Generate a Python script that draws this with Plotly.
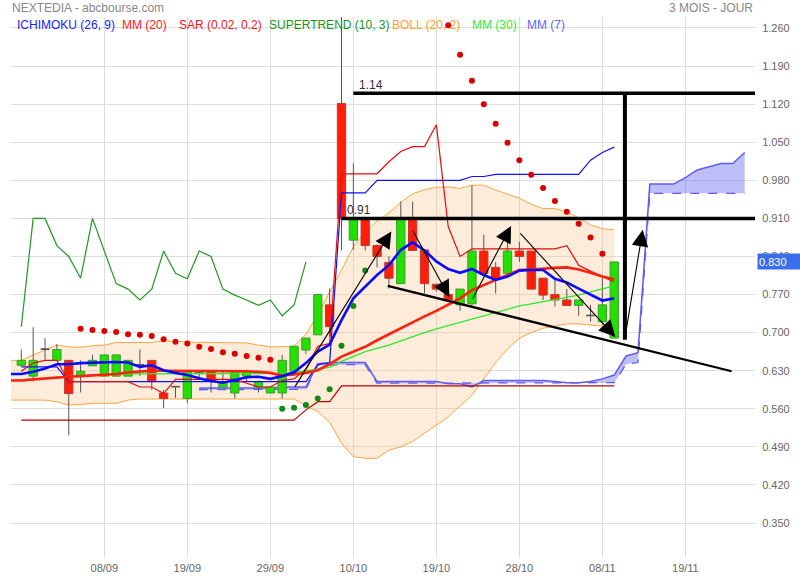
import plotly.graph_objects as go

# ---------------- data ----------------
tick_idx = [7, 14, 21, 28, 35, 42, 49, 56]
tick_labels = ['08/09', '19/09', '29/09', '10/10', '19/10', '28/10', '08/11', '19/11']

candle_idx = list(range(51))
opens = [0.640, 0.620, 0.669, 0.649, 0.649, 0.620, 0.639, 0.620, 0.620, 0.620,
         0.640, 0.649, 0.589, 0.600, 0.579, 0.625, 0.630, 0.600, 0.589, 0.620,
         0.600, 0.589, 0.589, 0.629, 0.668, 0.696, 0.751, 1.121, 0.870, 0.910,
         0.860, 0.829, 0.790, 0.910, 0.852, 0.789, 0.770, 0.751, 0.753, 0.850,
         0.820, 0.809, 0.850, 0.850, 0.800, 0.770, 0.760, 0.750, 0.731, 0.720,
         0.690]
highs = [0.669, 0.710, 0.690, 0.679, 0.649, 0.649, 0.659, 0.659, 0.659, 0.649,
         0.669, 0.649, 0.595, 0.600, 0.629, 0.630, 0.630, 0.628, 0.629, 0.632,
         0.612, 0.600, 0.659, 0.675, 0.690, 0.770, 0.781, 1.400, 1.011, 0.910,
         0.862, 0.840, 0.941, 0.941, 0.852, 0.789, 0.800, 0.780, 0.971, 0.880,
         0.830, 0.880, 0.867, 0.850, 0.800, 0.800, 0.780, 0.760, 0.751, 0.800,
         0.830]
lows = [0.638, 0.610, 0.650, 0.649, 0.511, 0.590, 0.639, 0.620, 0.620, 0.620,
        0.620, 0.595, 0.561, 0.580, 0.570, 0.615, 0.590, 0.600, 0.579, 0.610,
        0.590, 0.589, 0.579, 0.620, 0.661, 0.696, 0.693, 0.851, 0.852, 0.851,
        0.820, 0.781, 0.790, 0.851, 0.772, 0.775, 0.760, 0.740, 0.748, 0.809,
        0.772, 0.809, 0.830, 0.780, 0.760, 0.748, 0.750, 0.731, 0.720, 0.715,
        0.690]
closes = [0.649, 0.649, 0.669, 0.669, 0.588, 0.629, 0.649, 0.659, 0.659, 0.649,
          0.640, 0.610, 0.579, 0.600, 0.629, 0.625, 0.611, 0.610, 0.629, 0.629,
          0.610, 0.600, 0.649, 0.675, 0.690, 0.770, 0.711, 0.910, 0.910, 0.860,
          0.840, 0.800, 0.910, 0.851, 0.790, 0.780, 0.760, 0.780, 0.850, 0.809,
          0.799, 0.850, 0.840, 0.780, 0.769, 0.760, 0.750, 0.760, 0.731, 0.751,
          0.830]

# indicator lines, index -1 .. 50
line_idx = list(range(-1, 51))
mm7 = [0.624, 0.624, 0.628, 0.634, 0.642, 0.642, 0.644, 0.645, 0.645, 0.646,
       0.645, 0.637, 0.640, 0.631, 0.626, 0.622, 0.616, 0.611, 0.608, 0.613,
       0.618, 0.619, 0.615, 0.620, 0.627, 0.644, 0.665, 0.678, 0.723, 0.763,
       0.785, 0.806, 0.824, 0.852, 0.866, 0.851, 0.831, 0.817, 0.810, 0.817,
       0.806, 0.797, 0.803, 0.814, 0.815, 0.815, 0.799, 0.792, 0.781, 0.770,
       0.759, 0.763]
mm20 = [0.612, 0.612, 0.614, 0.616, 0.618, 0.619, 0.620, 0.621, 0.622, 0.624,
        0.627, 0.629, 0.630, 0.630, 0.630, 0.630, 0.630, 0.630, 0.630, 0.630,
        0.629, 0.628, 0.626, 0.621, 0.623, 0.626, 0.631, 0.642, 0.656, 0.665,
        0.674, 0.686, 0.697, 0.708, 0.720, 0.730, 0.740, 0.751, 0.763, 0.778,
        0.788, 0.797, 0.806, 0.815, 0.816, 0.818, 0.819, 0.820, 0.816, 0.810,
        0.803, 0.798]
mm30 = [0.612, 0.613, 0.614, 0.616, 0.618, 0.620, 0.621, 0.622, 0.623, 0.624,
        0.624, 0.624, 0.624, 0.624, 0.624, 0.624, 0.624, 0.624, 0.624, 0.624,
        0.624, 0.624, 0.624, 0.625, 0.627, 0.630, 0.632, 0.636, 0.647, 0.656,
        0.665, 0.671, 0.677, 0.685, 0.693, 0.700, 0.707, 0.713, 0.719, 0.726,
        0.732, 0.738, 0.743, 0.749, 0.753, 0.757, 0.761, 0.765, 0.769, 0.775,
        0.780, 0.786]
boll_up = [0.649, 0.649, 0.659, 0.668, 0.677, 0.674, 0.673, 0.676, 0.677, 0.682,
           0.682, 0.682, 0.682, 0.685, 0.684, 0.682, 0.682, 0.682, 0.682, 0.682,
           0.681, 0.677, 0.674, 0.674, 0.675, 0.697, 0.733, 0.775, 0.815, 0.858,
           0.886, 0.905, 0.920, 0.940, 0.955, 0.963, 0.967, 0.968, 0.965, 0.971,
           0.971, 0.962, 0.955, 0.947, 0.936, 0.928, 0.928, 0.922, 0.911, 0.898,
           0.891, 0.889]
boll_low = [0.576, 0.576, 0.576, 0.576, 0.573, 0.567, 0.568, 0.570, 0.570, 0.570,
            0.576, 0.578, 0.578, 0.578, 0.578, 0.578, 0.578, 0.578, 0.578, 0.578,
            0.578, 0.578, 0.578, 0.578, 0.578, 0.565, 0.555, 0.535, 0.497, 0.472,
            0.469, 0.469, 0.484, 0.490, 0.500, 0.515, 0.530, 0.545, 0.565, 0.585,
            0.615, 0.645, 0.670, 0.690, 0.700, 0.708, 0.712, 0.716, 0.716, 0.714,
            0.711, 0.710]

# ichimoku, index 0 .. 50
tenkan = [0.629, 0.644, 0.649, 0.649, 0.610, 0.610, 0.610, 0.610, 0.610, 0.610,
          0.600, 0.600, 0.588, 0.614, 0.614, 0.614, 0.614, 0.614, 0.614, 0.607,
          0.600, 0.600, 0.612, 0.615, 0.633, 0.675, 0.680, 0.992, 0.992, 0.992,
          0.992, 1.014, 1.033, 1.042, 1.042, 1.082, 0.895, 0.840, 0.854, 0.854,
          0.854, 0.854, 0.854, 0.854, 0.854, 0.854, 0.860, 0.824, 0.813, 0.803,
          0.793]
kijun = [0.637, 0.637, 0.637, 0.637, 0.610, 0.610, 0.610, 0.610, 0.610, 0.610,
         0.610, 0.610, 0.610, 0.610, 0.610, 0.610, 0.610, 0.610, 0.610, 0.610,
         0.610, 0.610, 0.610, 0.610, 0.610, 0.641, 0.644, 0.957, 0.957, 0.957,
         0.980, 0.980, 0.980, 0.980, 0.980, 0.980, 0.980, 0.980, 0.987, 0.987,
         0.991, 0.991, 0.991, 0.991, 0.991, 0.991, 0.991, 0.991, 1.017, 1.031,
         1.041]
dark_line = [0.539] * 24 + [0.558, 0.573, 0.573] + [0.602] * 24

cloud_idx = list(range(15, 62))
senkou_a = [0.598, 0.598, 0.598, 0.598, 0.598, 0.598, 0.598, 0.600, 0.600, 0.600,
            0.643, 0.645, 0.645, 0.645, 0.645, 0.610, 0.610, 0.610, 0.610, 0.610,
            0.610, 0.606, 0.606, 0.600, 0.612, 0.612, 0.612, 0.612, 0.612, 0.612,
            0.610, 0.608, 0.608, 0.610, 0.615, 0.622, 0.657, 0.663, 0.973, 0.973,
            0.973, 0.985, 0.999, 1.005, 1.011, 1.011, 1.031]
senkou_b = [0.595, 0.595, 0.595, 0.595, 0.595, 0.595, 0.595, 0.596, 0.596, 0.596,
            0.640, 0.641, 0.641, 0.641, 0.641, 0.607, 0.607, 0.607, 0.607, 0.607,
            0.607, 0.607, 0.607, 0.607, 0.607, 0.607, 0.607, 0.607, 0.607, 0.607,
            0.607, 0.607, 0.607, 0.607, 0.607, 0.608, 0.642, 0.645, 0.956, 0.956,
            0.956, 0.956, 0.956, 0.956, 0.956, 0.956, 0.956]

sar_red_idx = list(range(5, 22)) + list(range(36, 50))
sar_red = [0.707, 0.705, 0.703, 0.701, 0.697, 0.696, 0.694, 0.688, 0.683, 0.680,
           0.674, 0.670, 0.664, 0.661, 0.657, 0.654, 0.650,
           1.265, 1.211, 1.163, 1.120, 1.084, 1.049, 1.017, 0.990, 0.966, 0.942,
           0.922, 0.900, 0.875, 0.845]
sar_green_idx = list(range(22, 30))
sar_green = [0.560, 0.562, 0.567, 0.579, 0.596, 0.676, 0.749, 0.814]

chikou_idx = list(range(0, 25))
chikou = closes[26:51]

last_price = 0.830

# user drawings (index, price)
hlines = [(28, 1.14, '1.14'), (27, 0.91, '0.91')]
vline = (50.9, 1.14, 0.687)
trend_line = ((30.9, 0.786), (59.9, 0.629))
arrows = [((23.0, 0.598), (31.2, 0.886)),
          ((32.95, 0.890), (36.1, 0.765)),
          ((38.0, 0.760), (41.3, 0.896)),
          ((41.96, 0.885), (50.1, 0.692)),
          ((50.9, 0.690), (52.4, 0.889))]

# ---------------- figure ----------------
X0, X1 = -0.87, 61.87
Y0, Y1 = 0.2857, 1.2802
FONT = 'Liberation Sans, Arial, sans-serif'

fig = go.Figure()

# Bollinger band fill
fig.add_trace(go.Scatter(x=line_idx, y=boll_up, mode='lines',
                         line=dict(color='#ffa53c', width=1), zorder=0))
fig.add_trace(go.Scatter(x=line_idx, y=boll_low, mode='lines', fill='tonexty',
                         fillcolor='rgba(247,196,140,0.33)',
                         line=dict(color='#ffa53c', width=1), zorder=0))

# Ichimoku cloud
fig.add_trace(go.Scatter(x=cloud_idx, y=senkou_b, mode='lines',
                         line=dict(color='#5d5df0', width=1.3, dash='dash'), zorder=1))
fig.add_trace(go.Scatter(x=cloud_idx, y=senkou_a, mode='lines', fill='tonexty',
                         fillcolor='rgba(100,100,240,0.42)',
                         line=dict(color='#5d5df0', width=1.5), zorder=1))

# candles: wicks + bodies
wx, wy = [], []
for i, h, l in zip(candle_idx, highs, lows):
    wx += [i, i, None]
    wy += [l, h, None]
fig.add_trace(go.Scatter(x=wx, y=wy, mode='lines',
                         line=dict(color='#555555', width=1), zorder=2))

body_base, body_h, body_fill, body_line = [], [], [], []
for o, c in zip(opens, closes):
    body_base.append(min(o, c))
    body_h.append(max(abs(c - o), 0.0012))
    if c > o:
        body_fill.append('#22e000'); body_line.append('#3f9a2f')
    elif c < o:
        body_fill.append('#ff1e0a'); body_line.append('#b3402e')
    else:
        body_fill.append('#555555'); body_line.append('#555555')
fig.add_trace(go.Bar(x=candle_idx, y=body_h, base=body_base, width=0.7,
                     marker=dict(color=body_fill, line=dict(color=body_line, width=1)),
                     zorder=3))

# ichimoku lines
fig.add_trace(go.Scatter(x=candle_idx, y=dark_line, mode='lines',
                         line=dict(color='#c00000', width=1.2), zorder=4))
fig.add_trace(go.Scatter(x=chikou_idx, y=chikou, mode='lines',
                         line=dict(color='#1e9a1e', width=1.2), zorder=4))
fig.add_trace(go.Scatter(x=candle_idx, y=kijun, mode='lines',
                         line=dict(color='#1010ff', width=1.2), zorder=4))
fig.add_trace(go.Scatter(x=candle_idx, y=tenkan, mode='lines',
                         line=dict(color='#e01010', width=1.2), zorder=4))

# moving averages
fig.add_trace(go.Scatter(x=line_idx, y=mm30, mode='lines',
                         line=dict(color='#2ee82e', width=1.3), zorder=5))
fig.add_trace(go.Scatter(x=line_idx, y=mm20, mode='lines',
                         line=dict(color='#ff2010', width=2.6), zorder=5))
fig.add_trace(go.Scatter(x=line_idx, y=mm7, mode='lines',
                         line=dict(color='#0a0aff', width=2.6), zorder=6))

# SAR dots
fig.add_trace(go.Scatter(x=sar_red_idx, y=sar_red, mode='markers',
                         marker=dict(color='#dd0000', size=6), zorder=7))
fig.add_trace(go.Scatter(x=sar_green_idx, y=sar_green, mode='markers',
                         marker=dict(color='#128a12', size=6), zorder=7))

# user drawings
shapes = []
for xs, yv, _ in hlines:
    shapes.append(dict(type='line', xref='x', yref='y', x0=xs, x1=X1, y0=yv, y1=yv,
                       line=dict(color='black', width=3.5)))
shapes.append(dict(type='line', xref='x', yref='y', x0=vline[0], x1=vline[0],
                   y0=vline[1], y1=vline[2], line=dict(color='black', width=4)))
shapes.append(dict(type='line', xref='x', yref='y', x0=trend_line[0][0], y0=trend_line[0][1],
                   x1=trend_line[1][0], y1=trend_line[1][1],
                   line=dict(color='black', width=2.3)))

annotations = []
for xs, yv, txt in hlines:
    annotations.append(dict(x=xs + 0.3, y=yv, xref='x', yref='y', text=txt, showarrow=False,
                            xanchor='left', yanchor='bottom', yshift=-1,
                            font=dict(family=FONT, size=12, color='#333333')))
for (tx, ty), (hx, hy) in arrows:
    annotations.append(dict(x=hx, y=hy, ax=tx, ay=ty, xref='x', yref='y', axref='x', ayref='y',
                            text='', showarrow=True, arrowhead=2, arrowsize=3.0,
                            arrowwidth=1.1, arrowcolor='black'))

# header texts
def px_x(p):
    return (p - 11) / 744.0

def px_y(p):
    return 1 - (p - 17) / 541.0

annotations.append(dict(x=px_x(10), y=px_y(8), xref='paper', yref='paper',
                        text='NEXTEDIA - abcbourse.com', showarrow=False,
                        xanchor='left', yanchor='middle',
                        font=dict(family=FONT, size=12, color='#888888')))
annotations.append(dict(x=px_x(755), y=px_y(8), xref='paper', yref='paper',
                        text='3 MOIS - JOUR', showarrow=False,
                        xanchor='right', yanchor='middle',
                        font=dict(family=FONT, size=12, color='#888888')))
legend_items = [('ICHIMOKU (26, 9)', '#2020ff', 15), ('MM (20)', '#ff2020', 120),
                ('SAR (0.02, 0.2)', '#ee2020', 177), ('SUPERTREND (10, 3)', '#1a961a', 267),
                ('BOLL (20, 2)', '#ffa030', 390), ('MM (30)', '#33ee33', 470),
                ('MM (7)', '#6262ff', 525)]
for txt, col, xp in legend_items:
    annotations.append(dict(x=px_x(xp), y=px_y(25), xref='paper', yref='paper', text=txt,
                            showarrow=False, xanchor='left', yanchor='middle',
                            font=dict(family=FONT, size=12, color=col)))

# last price tag
annotations.append(dict(x=1, y=last_price, xref='paper', yref='y', text='%.3f' % last_price,
                        showarrow=False, xanchor='left', yanchor='middle', xshift=2,
                        width=42, height=13, align='left', bgcolor='#3a6ee8', borderpad=1,
                        font=dict(family=FONT, size=11, color='white')))

fig.update_layout(
    width=800, height=580,
    margin=dict(l=11, r=45, t=17, b=22, autoexpand=False),
    paper_bgcolor='white', plot_bgcolor='white',
    showlegend=False, barmode='overlay',
    shapes=shapes, annotations=annotations,
    font=dict(family=FONT, size=11, color='#666666'),
    xaxis=dict(range=[X0, X1], tickvals=tick_idx, ticktext=tick_labels, automargin=False,
               showgrid=True, gridcolor='#dddddd', gridwidth=1,
               showline=True, linecolor='#d0d0d0', mirror=True, zeroline=False,
               ticks='', tickfont=dict(size=11, color='#666666')),
    yaxis=dict(range=[Y0, Y1], side='right', tick0=0.35, dtick=0.07, tickformat='.3f',
               automargin=False,
               showgrid=True, gridcolor='#dddddd', gridwidth=1,
               showline=True, linecolor='#d0d0d0', mirror=True, zeroline=False,
               ticks='', ticklabelstandoff=4, tickfont=dict(size=11, color='#666666')),
)

fig.write_html('out.html', config={'displayModeBar': False},
               post_script="document.body.style.margin='0';document.body.style.overflow='hidden';")
